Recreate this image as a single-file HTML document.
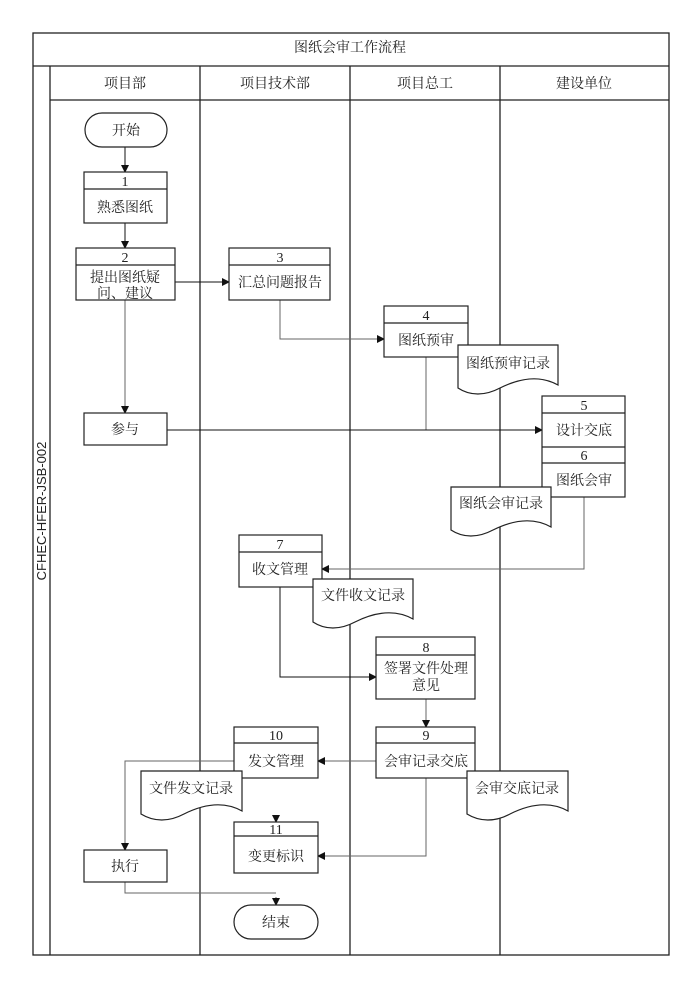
<!DOCTYPE html>
<html><head><meta charset="utf-8"><style>
html,body{margin:0;padding:0;background:#fff;}
svg text{font-family:"Liberation Serif","Noto Serif CJK SC",serif;font-size:14px;fill:#222;}
</style></head><body>
<svg width="700" height="989" viewBox="0 0 700 989" xmlns="http://www.w3.org/2000/svg">
<defs>
<marker id="a" markerWidth="8" markerHeight="8" refX="7" refY="4" orient="auto" markerUnits="userSpaceOnUse">
<path d="M0,0 L8,4 L0,8 z" fill="#111"/></marker>
</defs>
<rect width="700" height="989" fill="#fff"/>
<g stroke="#222" stroke-width="1.3" fill="none">
<rect x="33" y="33" width="636" height="922"/>
<line x1="33" y1="66" x2="669" y2="66"/>
<line x1="50" y1="66" x2="50" y2="955"/>
<line x1="50" y1="100" x2="669" y2="100"/>
<line x1="200" y1="66" x2="200" y2="955"/>
<line x1="350" y1="66" x2="350" y2="955"/>
<line x1="500" y1="66" x2="500" y2="955"/>
</g>
<text x="350" y="52" text-anchor="middle">图纸会审工作流程</text>
<text x="125" y="88" text-anchor="middle">项目部</text>
<text x="275" y="88" text-anchor="middle">项目技术部</text>
<text x="425" y="88" text-anchor="middle">项目总工</text>
<text x="584" y="88" text-anchor="middle">建设单位</text>
<text transform="translate(46,511) rotate(-90)" text-anchor="middle" style="font-family:'Liberation Sans',sans-serif;font-size:13px">CFHEC-HFER-JSB-002</text>

<!-- connectors -->
<g stroke="#666" stroke-width="1" fill="none">
<line x1="125" y1="147" x2="125" y2="172" stroke="#111" marker-end="url(#a)"/>
<line x1="125" y1="223" x2="125" y2="248" stroke="#111" marker-end="url(#a)"/>
<line x1="175" y1="282" x2="229" y2="282" stroke="#111" marker-end="url(#a)"/>
<polyline points="280,300 280,339 384,339" marker-end="url(#a)"/>
<line x1="125" y1="300" x2="125" y2="413" marker-end="url(#a)"/>
<line x1="426" y1="357" x2="426" y2="430"/>
<line x1="167" y1="430" x2="542" y2="430" stroke="#111" marker-end="url(#a)"/>
<polyline points="584,497 584,569 322,569" marker-end="url(#a)"/>
<polyline points="280,587 280,677 376,677" stroke="#111" marker-end="url(#a)"/>
<line x1="426" y1="699" x2="426" y2="727" marker-end="url(#a)"/>
<line x1="376" y1="761" x2="318" y2="761" marker-end="url(#a)"/>
<polyline points="234,761 125,761 125,850" marker-end="url(#a)"/>
<polyline points="426,778 426,856 318,856" marker-end="url(#a)"/>
<line x1="276" y1="815" x2="276" y2="822" marker-end="url(#a)"/>
<polyline points="125,882 125,893 276,893"/>
<line x1="276" y1="897" x2="276" y2="905" marker-end="url(#a)"/>
</g>

<g stroke="#222" stroke-width="1.2" fill="#fff">
<rect x="85" y="113" width="82" height="34" rx="17"/>
<rect x="84" y="172" width="83" height="51"/><line x1="84" y1="189" x2="167" y2="189"/>
<rect x="76" y="248" width="99" height="52"/><line x1="76" y1="265" x2="175" y2="265"/>
<rect x="229" y="248" width="101" height="52"/><line x1="229" y1="265" x2="330" y2="265"/>
<rect x="384" y="306" width="84" height="51"/><line x1="384" y1="323" x2="468" y2="323"/>
<path d="M458,345 H558 V385 C540,375 520,378 500,388 C485,396 470,396 458,388 Z"/>
<rect x="84" y="413" width="83" height="32"/>
<rect x="542" y="396" width="83" height="101"/><line x1="542" y1="413" x2="625" y2="413"/><line x1="542" y1="447" x2="625" y2="447"/><line x1="542" y1="463" x2="625" y2="463"/>
<path d="M451,487 H551 V527 C533,517 513,520 493,530 C478,538 463,538 451,530 Z"/>
<rect x="239" y="535" width="83" height="52"/><line x1="239" y1="552" x2="322" y2="552"/>
<path d="M313,579 H413 V619 C395,609 375,612 355,622 C340,630 325,630 313,622 Z"/>
<rect x="376" y="637" width="99" height="62"/><line x1="376" y1="655" x2="475" y2="655"/>
<rect x="376" y="727" width="99" height="51"/><line x1="376" y1="743" x2="475" y2="743"/>
<rect x="234" y="727" width="84" height="51"/><line x1="234" y1="743" x2="318" y2="743"/>
<path d="M141,771 H242 V811 C224,801 204,804 184,814 C169,822 154,822 141,814 Z"/>
<path d="M467,771 H568 V811 C550,801 530,804 510,814 C495,822 480,822 467,814 Z"/>
<rect x="234" y="822" width="84" height="51"/><line x1="234" y1="836" x2="318" y2="836"/>
<rect x="84" y="850" width="83" height="32"/>
<rect x="234" y="905" width="84" height="34" rx="17"/>
</g>

<g text-anchor="middle">
<text x="126" y="135">开始</text>
<text x="125" y="186">1</text><text x="125" y="212">熟悉图纸</text>
<text x="125" y="262">2</text><text x="125" y="282">提出图纸疑</text><text x="125" y="298">问、建议</text>
<text x="280" y="262">3</text><text x="280" y="287">汇总问题报告</text>
<text x="426" y="320">4</text><text x="426" y="345">图纸预审</text>
<text x="508" y="368">图纸预审记录</text>
<text x="125" y="434">参与</text>
<text x="584" y="410">5</text><text x="584" y="435">设计交底</text>
<text x="584" y="460">6</text><text x="584" y="485">图纸会审</text>
<text x="501" y="508">图纸会审记录</text>
<text x="280" y="549">7</text><text x="280" y="574">收文管理</text>
<text x="363" y="600">文件收文记录</text>
<text x="426" y="652">8</text><text x="426" y="673">签署文件处理</text><text x="426" y="690">意见</text>
<text x="426" y="740">9</text><text x="426" y="766">会审记录交底</text>
<text x="276" y="740">10</text><text x="276" y="766">发文管理</text>
<text x="191" y="793">文件发文记录</text>
<text x="517" y="793">会审交底记录</text>
<text x="276" y="834">11</text><text x="276" y="861">变更标识</text>
<text x="125" y="871">执行</text>
<text x="276" y="927">结束</text>
</g>
</svg>
</body></html>
